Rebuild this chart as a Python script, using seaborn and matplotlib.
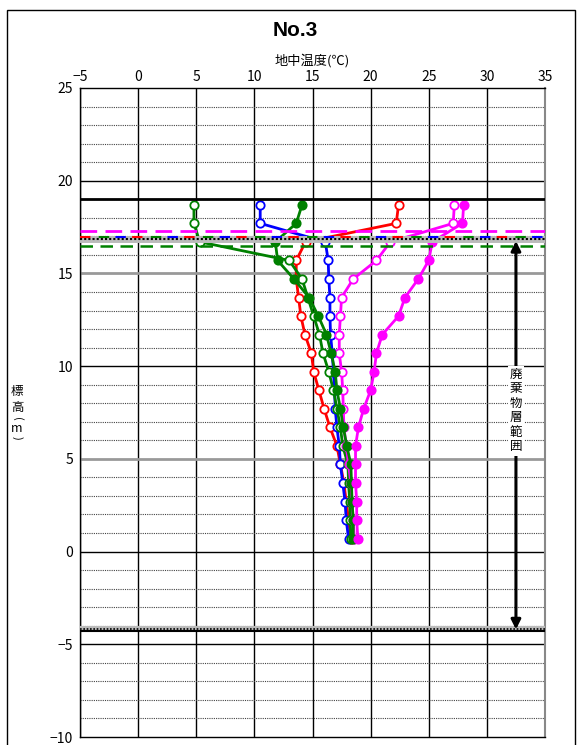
import numpy as np
import matplotlib
matplotlib.use("Agg")
import matplotlib.pyplot as plt
from matplotlib.ticker import MultipleLocator
from matplotlib.patches import Rectangle
import seaborn as sns

sns.set_style("white")
plt.rcParams['font.family'] = ['Noto Sans CJK JP', 'DejaVu Sans']
plt.rcParams['axes.unicode_minus'] = True
plt.rcParams['text.color'] = 'black'
plt.rcParams['axes.labelcolor'] = 'black'
plt.rcParams['xtick.color'] = 'black'
plt.rcParams['ytick.color'] = 'black'

# 標高(m)
depth = [18.7, 17.7, 16.7, 15.7, 14.7, 13.7, 12.7, 11.7, 10.7, 9.7,
         8.7, 7.7, 6.7, 5.7, 4.7, 3.7, 2.7, 1.7, 0.7]

# 地中温度(℃) 各系列
temp_red = [22.4, 22.2, 14.4, 13.6, 13.6, 13.8, 14.0, 14.35, 14.9, 15.1,
            15.55, 16.0, 16.5, 17.1, 17.4, 17.7, 17.9, 18.1, 18.3]
temp_blue = [10.5, 10.5, 16.1, 16.35, 16.4, 16.5, 16.5, 16.55, 16.7, 16.8,
             16.9, 16.95, 17.1, 17.3, 17.4, 17.6, 17.8, 17.9, 18.1]
temp_green_o = [4.8, 4.8, 5.3, 13.0, 14.1, 14.6, 15.1, 15.6, 15.9, 16.4,
                16.8, 17.1, 17.4, 17.6, 18.05, 18.1, 18.2, 18.25, 18.3]
temp_mag_o = [27.2, 27.1, 21.7, 20.5, 18.5, 17.5, 17.4, 17.3, 17.3, 17.5,
              17.6, 17.65, 17.7, 17.9, 18.1, 18.3, 18.4, 18.5, 18.6]
temp_green_f = [14.1, 13.6, 11.8, 12.0, 13.4, 14.7, 15.5, 16.2, 16.6, 16.95,
                17.1, 17.4, 17.65, 17.95, 18.3, 18.35, 18.4, 18.5, 18.5]
temp_mag_f = [28.0, 27.9, 25.3, 25.0, 24.1, 22.95, 22.4, 21.0, 20.5, 20.3,
              20.0, 19.4, 18.95, 18.7, 18.7, 18.7, 18.8, 18.8, 18.9]

series = [
    (temp_red, 'red', False),
    (temp_blue, 'blue', False),
    (temp_green_o, 'green', False),
    (temp_mag_o, 'magenta', False),
    (temp_green_f, 'green', True),
    (temp_mag_f, 'magenta', True),
]

fig = plt.figure(figsize=(5.79, 7.45), dpi=100)
ax = fig.add_axes([0.1382, 0.0107, 0.8031, 0.8712])

ax.set_xlim(-5, 35)
ax.set_ylim(-10, 25)
ax.xaxis.set_major_locator(MultipleLocator(5))
ax.yaxis.set_major_locator(MultipleLocator(5))
ax.yaxis.set_minor_locator(MultipleLocator(1))
ax.xaxis.tick_top()
ax.xaxis.set_label_position('top')
ax.tick_params(axis='both', which='both', length=0, labelsize=10, pad=5)
ax.tick_params(axis='x', pad=3)

# グリッド
ax.grid(which='minor', axis='y', color='#444444', linestyle=(0, (1, 1)), lw=0.8)
ax.grid(which='major', axis='x', color='black', lw=1)
for yv in [20, 10, 0, -5]:
    ax.axhline(yv, color='black', lw=1, zorder=1)
for yv in [15, 5]:
    ax.axhline(yv, color='#999999', lw=2, zorder=1)
for s in ax.spines.values():
    s.set_color('black')
    s.set_linewidth(1)
ax.spines['right'].set_color('#888888')
ax.spines['right'].set_linewidth(1.5)

# 系列
for temps, col, filled in series:
    sns.lineplot(x=temps, y=depth, sort=False, estimator=None, ax=ax,
                 color=col, lw=2, marker='o', markersize=6,
                 markerfacecolor=col if filled else 'white',
                 markeredgecolor=col, markeredgewidth=1.3, zorder=3)

# 境界線
ax.axhline(19.0, color='black', lw=2, zorder=4)
ax.axhline(17.3, color='magenta', lw=2, ls=(0, (6, 3)), zorder=4)
ax.axhline(16.85, color='#bbbbbb', lw=5, zorder=5)
ax.axhline(16.85, color='black', lw=1.5, ls=(0, (1, 1)), zorder=6)
ax.axhline(16.95, color='red', lw=1.5, ls=(0, (5, 20)), zorder=6)
ax.axhline(16.95, color='blue', lw=1.5, ls=(8, (5, 20)), zorder=6)
ax.axhline(16.95, color='green', lw=1.5, ls=(16, (5, 20)), zorder=6)
ax.axhline(16.5, color='green', lw=1.8, ls=(0, (5, 3)), zorder=4)

ax.axhline(-4.1, color='#bbbbbb', lw=3, zorder=5)
ax.axhline(-4.15, color='black', lw=1.2, ls=(0, (1, 1)), zorder=6)
ax.axhline(-4.3, color='black', lw=1.5, zorder=6)

# 廃棄物層範囲
ax.annotate('', xy=(32.5, 16.75), xytext=(32.5, -4.2),
            arrowprops=dict(arrowstyle='<|-|>', lw=2.2, color='black',
                            mutation_scale=14, shrinkA=0, shrinkB=0), zorder=7)
ax.text(32.5, 7.6, '廃\n棄\n物\n層\n範\n囲', ha='center', va='center',
        fontsize=9, linespacing=1.15, zorder=8,
        bbox=dict(facecolor='white', edgecolor='none', pad=1.5))

ax.set_xlabel('地中温度(℃)', fontsize=9.5, labelpad=4)
ax.set_ylabel('')

# 縦書きの軸ラベル 標高(m)
lx = 17 / 579
fig.text(lx, 1 - 392 / 745, '標', ha='center', va='center', fontsize=9)
fig.text(lx, 1 - 407 / 745, '高', ha='center', va='center', fontsize=9)
fig.text(lx, 1 - 419 / 745, '(', ha='center', va='center', fontsize=8, rotation=-90)
fig.text(lx, 1 - 428 / 745, 'm', ha='center', va='center', fontsize=9)
fig.text(lx, 1 - 438 / 745, ')', ha='center', va='center', fontsize=8, rotation=-90)

fig.text(295 / 579, 1 - 31 / 745, 'No.3', ha='center', va='center', fontsize=15,
         fontweight='bold', family=['Liberation Sans', 'DejaVu Sans'])

# 外枠
fig.patches.append(Rectangle((0.012, -0.05), 0.981, 1.037, transform=fig.transFigure,
                             fill=False, edgecolor='black', lw=1))

fig.savefig('out.png', dpi=100)
